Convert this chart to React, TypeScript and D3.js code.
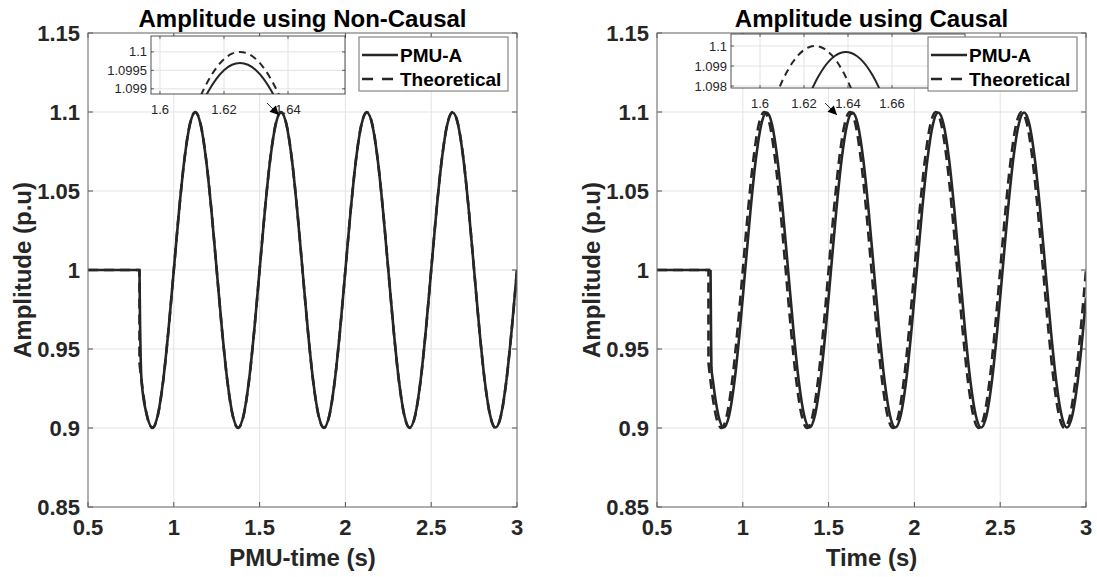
import React from "react";
import * as d3 from "d3";

// ---------- tick values / labels ----------
const X_TICKS = [0.5, 1, 1.5, 2, 2.5, 3];
const X_TICK_LABELS = ["0.5", "1", "1.5", "2", "2.5", "3"];
const Y_TICKS = [0.85, 0.9, 0.95, 1, 1.05, 1.1, 1.15];
const Y_TICK_LABELS = ["0.85", "0.9", "0.95", "1", "1.05", "1.1", "1.15"];

// ---------- main series ----------
// sample times of the theoretical / non-causal oscillation
const WAVE_T = [
  0.8125, 0.84375, 0.875, 0.90625, 0.9375, 0.96875, 1.0, 1.03125, 1.0625, 1.09375,
  1.125, 1.15625, 1.1875, 1.21875, 1.25, 1.28125, 1.3125, 1.34375, 1.375, 1.40625,
  1.4375, 1.46875, 1.5, 1.53125, 1.5625, 1.59375, 1.625, 1.65625, 1.6875, 1.71875,
  1.75, 1.78125, 1.8125, 1.84375, 1.875, 1.90625, 1.9375, 1.96875, 2.0, 2.03125,
  2.0625, 2.09375, 2.125, 2.15625, 2.1875, 2.21875, 2.25, 2.28125, 2.3125, 2.34375,
  2.375, 2.40625, 2.4375, 2.46875, 2.5, 2.53125, 2.5625, 2.59375, 2.625, 2.65625,
  2.6875, 2.71875, 2.75, 2.78125, 2.8125, 2.84375, 2.875, 2.90625, 2.9375, 2.96875, 3.0,
];
const THEO_V = [
  0.9293, 0.9076, 0.9, 0.9076, 0.9293, 0.9617, 1, 1.0383, 1.0707, 1.0924,
  1.1, 1.0924, 1.0707, 1.0383, 1, 0.9617, 0.9293, 0.9076, 0.9, 0.9076,
  0.9293, 0.9617, 1, 1.0383, 1.0707, 1.0924, 1.1, 1.0924, 1.0707, 1.0383,
  1, 0.9617, 0.9293, 0.9076, 0.9, 0.9076, 0.9293, 0.9617, 1, 1.0383,
  1.0707, 1.0924, 1.1, 1.0924, 1.0707, 1.0383, 1, 0.9617, 0.9293, 0.9076,
  0.9, 0.9076, 0.9293, 0.9617, 1, 1.0383, 1.0707, 1.0924, 1.1, 1.0924,
  1.0707, 1.0383, 1, 0.9617, 0.9293, 0.9076, 0.9, 0.9076, 0.9293, 0.9617, 1,
];
const PMU_NC_V = [
  0.9295, 0.9079, 0.9003, 0.9079, 0.9295, 0.9618, 1, 1.0382, 1.0705, 1.0921,
  1.0997, 1.0921, 1.0705, 1.0382, 1, 0.9618, 0.9295, 0.9079, 0.9003, 0.9079,
  0.9295, 0.9618, 1, 1.0382, 1.0705, 1.0921, 1.0997, 1.0921, 1.0705, 1.0382,
  1, 0.9618, 0.9295, 0.9079, 0.9003, 0.9079, 0.9295, 0.9618, 1, 1.0382,
  1.0705, 1.0921, 1.0997, 1.0921, 1.0705, 1.0382, 1, 0.9618, 0.9295, 0.9079,
  0.9003, 0.9079, 0.9295, 0.9618, 1, 1.0382, 1.0705, 1.0921, 1.0997, 1.0921,
  1.0705, 1.0382, 1, 0.9618, 0.9295, 0.9079, 0.9003, 0.9079, 0.9295, 0.9618, 1,
];
// causal PMU: lagging samples
const CAUSAL_T = [
  0.8265, 0.85775, 0.889, 0.92025, 0.9515, 0.98275, 1.014, 1.04525, 1.0765, 1.10775,
  1.139, 1.17025, 1.2015, 1.23275, 1.264, 1.29525, 1.3265, 1.35775, 1.389, 1.42025,
  1.4515, 1.48275, 1.514, 1.54525, 1.5765, 1.60775, 1.639, 1.67025, 1.7015, 1.73275,
  1.764, 1.79525, 1.8265, 1.85775, 1.889, 1.92025, 1.9515, 1.98275, 2.014, 2.04525,
  2.0765, 2.10775, 2.139, 2.17025, 2.2015, 2.23275, 2.264, 2.29525, 2.3265, 2.35775,
  2.389, 2.42025, 2.4515, 2.48275, 2.514, 2.54525, 2.5765, 2.60775, 2.639, 2.67025,
  2.7015, 2.73275, 2.764, 2.79525, 2.8265, 2.85775, 2.889, 2.92025, 2.9515, 2.98275, 3.0,
];
const PMU_C_V = [
  0.9295, 0.9079, 0.9003, 0.9079, 0.9295, 0.9618, 1, 1.0382, 1.0705, 1.0921,
  1.0997, 1.0921, 1.0705, 1.0382, 1, 0.9618, 0.9295, 0.9079, 0.9003, 0.9079,
  0.9295, 0.9618, 1, 1.0382, 1.0705, 1.0921, 1.0997, 1.0921, 1.0705, 1.0382,
  1, 0.9618, 0.9295, 0.9079, 0.9003, 0.9079, 0.9295, 0.9618, 1, 1.0382,
  1.0705, 1.0921, 1.0997, 1.0921, 1.0705, 1.0382, 1, 0.9618, 0.9295, 0.9079,
  0.9003, 0.9079, 0.9295, 0.9618, 1, 1.0382, 1.0705, 1.0921, 1.0997, 1.0921,
  1.0705, 1.0382, 1, 0.9618, 0.9295, 0.9079, 0.9003, 0.9079, 0.9295, 0.9618, 0.9825,
];

// pre-disturbance flat parts and step transitions
const THEO_FLAT_T = [0.5, 0.8, 0.8];
const THEO_FLAT_V = [1, 1, 0.9412];
const THEO_HEAD_T = [0.8];
const THEO_HEAD_V = [0.9412];
const PMU_NC_FLAT_T = [0.5, 0.8];
const PMU_NC_FLAT_V = [1, 1];
const PMU_NC_HEAD_T = [0.8, 0.8035, 0.807];
const PMU_NC_HEAD_V = [1, 0.965, 0.944];
const PMU_C_FLAT_T = [0.5, 0.812];
const PMU_C_FLAT_V = [1, 1];
const PMU_C_HEAD_T = [0.812, 0.8145, 0.817];
const PMU_C_HEAD_V = [1, 0.965, 0.9385];

// ---------- inset data (zoom near the 1.625 s peak) ----------
const INS_L_T = [1.61, 1.6125, 1.615, 1.6175, 1.62, 1.6225, 1.625, 1.6275, 1.63, 1.6325, 1.635, 1.6375, 1.64];
const INS_L_THEO = [1.098223, 1.098766, 1.09921, 1.099556, 1.099803, 1.099951, 1.1, 1.099951, 1.099803, 1.099556, 1.09921, 1.098766, 1.098223];
const INS_L_PMU = [1.097929, 1.09847, 1.098913, 1.099257, 1.099503, 1.099651, 1.0997, 1.099651, 1.099503, 1.099257, 1.098913, 1.09847, 1.097929];
const INS_L_XTICKS = [1.6, 1.62, 1.64];
const INS_L_XLABELS = ["1.6", "1.62", "1.64"];
const INS_L_YTICKS = [1.099, 1.0995, 1.1];
const INS_L_YLABELS = ["1.099", "1.0995", "1.1"];

const INS_R_THEO_T = [1.605, 1.6075, 1.61, 1.6125, 1.615, 1.6175, 1.62, 1.6225, 1.625, 1.6275, 1.63, 1.6325, 1.635, 1.6375, 1.64, 1.6425, 1.645];
const INS_R_THEO = [1.096858, 1.097582, 1.098223, 1.098766, 1.09921, 1.099556, 1.099803, 1.099951, 1.1, 1.099951, 1.099803, 1.099556, 1.09921, 1.098766, 1.098223, 1.097582, 1.096858];
const INS_R_PMU_T = [1.619, 1.6215, 1.624, 1.6265, 1.629, 1.6315, 1.634, 1.6365, 1.639, 1.6415, 1.644, 1.6465, 1.649, 1.6515, 1.654, 1.6565, 1.659];
const INS_R_PMU = [1.096551, 1.097289, 1.097929, 1.09847, 1.098913, 1.099257, 1.099503, 1.099651, 1.0997, 1.099651, 1.099503, 1.099257, 1.098913, 1.09847, 1.097929, 1.097289, 1.096551];
const INS_R_XTICKS = [1.6, 1.62, 1.64, 1.66];
const INS_R_XLABELS = ["1.6", "1.62", "1.64", "1.66"];
const INS_R_YTICKS = [1.098, 1.099, 1.1];
const INS_R_YLABELS = ["1.098", "1.099", "1.1"];

const LEGEND = ["PMU-A", "Theoretical"];

// ---------- styling ----------
const W = 1097;
const H = 577;
const TOP = 33;
const BOTTOM = 507;
const FONT = "'Liberation Sans', Arial, Helvetica, sans-serif";
const AX = "#262626";
const GRID = "#e3e3e3";
const LINE = "#262626";

type Pt = [number, number];
const zip = (t: number[], v: number[]): Pt[] => t.map((d, i) => [d, v[i]]);

interface InsetCfg {
  x: number; y: number; w: number; h: number;
  xDomain: [number, number]; yDomain: [number, number];
  theo: Pt[]; pmu: Pt[];
  xticks: number[]; xlabels: string[]; yticks: number[]; ylabels: string[];
}

interface PanelCfg {
  id: string;
  x0: number; x1: number;
  title: string; xLabel: string;
  theoFlat: Pt[]; theoWave: Pt[];
  pmuFlat: Pt[]; pmuWave: Pt[];
  inset: InsetCfg;
  arrow: [Pt, Pt];
}

function Inset({ cfg, id }: { cfg: InsetCfg; id: string }) {
  const xs = d3.scaleLinear().domain(cfg.xDomain).range([cfg.x, cfg.x + cfg.w]);
  const ys = d3.scaleLinear().domain(cfg.yDomain).range([cfg.y + cfg.h, cfg.y]);
  const line = d3.line<Pt>().x((d) => xs(d[0])).y((d) => ys(d[1])).curve(d3.curveNatural);
  return (
    <g>
      <defs>
        <clipPath id={id}>
          <rect x={cfg.x} y={cfg.y} width={cfg.w} height={cfg.h} />
        </clipPath>
      </defs>
      <rect x={cfg.x} y={cfg.y} width={cfg.w} height={cfg.h} fill="#fff" />
      {cfg.xticks.map((t) => (
        <line key={"gx" + t} x1={xs(t)} x2={xs(t)} y1={cfg.y} y2={cfg.y + cfg.h} stroke={GRID} strokeWidth={1} />
      ))}
      {cfg.yticks.map((t) => (
        <line key={"gy" + t} x1={cfg.x} x2={cfg.x + cfg.w} y1={ys(t)} y2={ys(t)} stroke={GRID} strokeWidth={1} />
      ))}
      <g clipPath={`url(#${id})`}>
        <path d={line(cfg.pmu) || ""} fill="none" stroke={LINE} strokeWidth={2} />
        <path d={line(cfg.theo) || ""} fill="none" stroke={LINE} strokeWidth={2} strokeDasharray="7,5" />
      </g>
      {cfg.xticks.map((t) => (
        <g key={"tx" + t}>
          <line x1={xs(t)} x2={xs(t)} y1={cfg.y + cfg.h} y2={cfg.y + cfg.h - 3} stroke={AX} strokeWidth={0.7} />
          <line x1={xs(t)} x2={xs(t)} y1={cfg.y} y2={cfg.y + 3} stroke={AX} strokeWidth={0.7} />
        </g>
      ))}
      {cfg.yticks.map((t) => (
        <g key={"ty" + t}>
          <line x1={cfg.x} x2={cfg.x + 3} y1={ys(t)} y2={ys(t)} stroke={AX} strokeWidth={0.7} />
          <line x1={cfg.x + cfg.w} x2={cfg.x + cfg.w - 3} y1={ys(t)} y2={ys(t)} stroke={AX} strokeWidth={0.7} />
        </g>
      ))}
      <rect x={cfg.x} y={cfg.y} width={cfg.w} height={cfg.h} fill="none" stroke={AX} strokeWidth={0.8} />
      {cfg.xticks.map((t, i) => (
        <text key={"lx" + t} x={xs(t)} y={cfg.y + cfg.h + 20} textAnchor="middle" fontSize={13} fill={AX} fontFamily={FONT}>
          {cfg.xlabels[i]}
        </text>
      ))}
      {cfg.yticks.map((t, i) => (
        <text key={"ly" + t} x={cfg.x - 4} y={ys(t)} dy="0.35em" textAnchor="end" fontSize={13} fill={AX} fontFamily={FONT}>
          {cfg.ylabels[i]}
        </text>
      ))}
    </g>
  );
}

function Panel({ p }: { p: PanelCfg }) {
  const x = d3.scaleLinear().domain([0.5, 3]).range([p.x0, p.x1]);
  const y = d3.scaleLinear().domain([0.85, 1.15]).range([BOTTOM, TOP]);
  const flat = d3.line<Pt>().x((d) => x(d[0])).y((d) => y(d[1])).curve(d3.curveLinear);
  const wave = d3.line<Pt>().x((d) => x(d[0])).y((d) => y(d[1])).curve(d3.curveMonotoneX);
  const lgW = 149;
  const lgH = 54;
  const lgX = p.x1 - 9 - lgW;
  const lgY = 37;
  const [a0, a1] = p.arrow;
  return (
    <g>
      {/* grid */}
      {X_TICKS.map((t) => (
        <line key={"gx" + t} x1={x(t)} x2={x(t)} y1={TOP} y2={BOTTOM} stroke={GRID} strokeWidth={1} />
      ))}
      {Y_TICKS.map((t) => (
        <line key={"gy" + t} x1={p.x0} x2={p.x1} y1={y(t)} y2={y(t)} stroke={GRID} strokeWidth={1} />
      ))}
      {/* curves */}
      <g clipPath={`url(#clip-${p.id})`}>
        <path d={flat(p.pmuFlat) || ""} fill="none" stroke={LINE} strokeWidth={2.6} strokeLinejoin="round" />
        <path d={wave(p.pmuWave) || ""} fill="none" stroke={LINE} strokeWidth={2.6} strokeLinejoin="round" />
        <path d={flat(p.theoFlat) || ""} fill="none" stroke={LINE} strokeWidth={2.6} strokeDasharray="10,6" />
        <path d={wave(p.theoWave) || ""} fill="none" stroke={LINE} strokeWidth={2.6} strokeDasharray="10,6" />
      </g>
      {/* ticks */}
      {X_TICKS.map((t) => (
        <g key={"tx" + t}>
          <line x1={x(t)} x2={x(t)} y1={BOTTOM} y2={BOTTOM - 5} stroke={AX} strokeWidth={0.8} />
          <line x1={x(t)} x2={x(t)} y1={TOP} y2={TOP + 5} stroke={AX} strokeWidth={0.8} />
        </g>
      ))}
      {Y_TICKS.map((t) => (
        <g key={"ty" + t}>
          <line x1={p.x0} x2={p.x0 + 5} y1={y(t)} y2={y(t)} stroke={AX} strokeWidth={0.8} />
          <line x1={p.x1} x2={p.x1 - 5} y1={y(t)} y2={y(t)} stroke={AX} strokeWidth={0.8} />
        </g>
      ))}
      <rect x={p.x0} y={TOP} width={p.x1 - p.x0} height={BOTTOM - TOP} fill="none" stroke="#6e6e6e" strokeWidth={1} />
      {/* tick labels */}
      {X_TICKS.map((t, i) => (
        <text key={"lx" + t} x={x(t)} y={BOTTOM + 28} textAnchor="middle" fontSize={22} fontWeight="bold" fill={AX} fontFamily={FONT}>
          {X_TICK_LABELS[i]}
        </text>
      ))}
      {Y_TICKS.map((t, i) => (
        <text key={"ly" + t} x={p.x0 - 8} y={y(t)} dy="0.36em" textAnchor="end" fontSize={22} fontWeight="bold" fill={AX} fontFamily={FONT}>
          {Y_TICK_LABELS[i]}
        </text>
      ))}
      {/* axis labels and title */}
      <text x={(p.x0 + p.x1) / 2} y={566} textAnchor="middle" fontSize={24} fontWeight="bold" fill={AX} fontFamily={FONT}>
        {p.xLabel}
      </text>
      <text transform={`translate(${p.x0 - 57},${(TOP + BOTTOM) / 2}) rotate(-90)`} textAnchor="middle" fontSize={24} fontWeight="bold" fill={AX} fontFamily={FONT}>
        Amplitude (p.u)
      </text>
      <text x={(p.x0 + p.x1) / 2} y={27} textAnchor="middle" fontSize={24} fontWeight="bold" fill="#000" fontFamily={FONT}>
        {p.title}
      </text>
      {/* inset */}
      <Inset cfg={p.inset} id={"inset-" + p.id} />
      {/* arrow */}
      <line x1={x(a0[0])} y1={y(a0[1])} x2={x(a1[0])} y2={y(a1[1])} stroke="#000" strokeWidth={0.8} markerEnd="url(#arrowhead)" />
      {/* legend */}
      <rect x={lgX} y={lgY} width={lgW} height={lgH} fill="#fff" stroke="#6e6e6e" strokeWidth={1} />
      <line x1={lgX + 3} x2={lgX + 39} y1={lgY + 18} y2={lgY + 18} stroke={LINE} strokeWidth={2.6} />
      <line x1={lgX + 3} x2={lgX + 39} y1={lgY + 42} y2={lgY + 42} stroke={LINE} strokeWidth={2.6} strokeDasharray="11,9" />
      <text x={lgX + 41} y={lgY + 18} dy="0.36em" fontSize={19} fontWeight="bold" fill="#000" fontFamily={FONT}>
        {LEGEND[0]}
      </text>
      <text x={lgX + 41} y={lgY + 42} dy="0.36em" fontSize={19} fontWeight="bold" fill="#000" fontFamily={FONT}>
        {LEGEND[1]}
      </text>
    </g>
  );
}

const PANELS: PanelCfg[] = [
  {
    id: "nc",
    x0: 88,
    x1: 517,
    title: "Amplitude using Non-Causal",
    xLabel: "PMU-time (s)",
    theoFlat: zip(THEO_FLAT_T, THEO_FLAT_V),
    theoWave: zip([...THEO_HEAD_T, ...WAVE_T], [...THEO_HEAD_V, ...THEO_V]),
    pmuFlat: zip(PMU_NC_FLAT_T, PMU_NC_FLAT_V),
    pmuWave: zip([...PMU_NC_HEAD_T, ...WAVE_T], [...PMU_NC_HEAD_V, ...PMU_NC_V]),
    inset: {
      x: 151, y: 36, w: 194, h: 58,
      xDomain: [1.5972, 1.6578], yDomain: [1.09886, 1.10043],
      theo: zip(INS_L_T, INS_L_THEO), pmu: zip(INS_L_T, INS_L_PMU),
      xticks: INS_L_XTICKS, xlabels: INS_L_XLABELS, yticks: INS_L_YTICKS, ylabels: INS_L_YLABELS,
    },
    arrow: [[1.543, 1.1057], [1.613, 1.0981]],
  },
  {
    id: "c",
    x0: 657,
    x1: 1086,
    title: "Amplitude using Causal",
    xLabel: "Time (s)",
    theoFlat: zip(THEO_FLAT_T, THEO_FLAT_V),
    theoWave: zip([...THEO_HEAD_T, ...WAVE_T], [...THEO_HEAD_V, ...THEO_V]),
    pmuFlat: zip(PMU_C_FLAT_T, PMU_C_FLAT_V),
    pmuWave: zip([...PMU_C_HEAD_T, ...CAUSAL_T], [...PMU_C_HEAD_V, ...PMU_C_V]),
    inset: {
      x: 731, y: 34, w: 234, h: 54,
      xDomain: [1.5868, 1.6932], yDomain: [1.0979, 1.1006],
      theo: zip(INS_R_THEO_T, INS_R_THEO), pmu: zip(INS_R_PMU_T, INS_R_PMU),
      xticks: INS_R_XTICKS, xlabels: INS_R_XLABELS, yticks: INS_R_YTICKS, ylabels: INS_R_YLABELS,
    },
    arrow: [[1.479, 1.1057], [1.549, 1.0981]],
  },
];

export default function App() {
  return (
    <svg width={W} height={H} viewBox={`0 0 ${W} ${H}`} style={{ display: "block", position: "absolute", left: 0, top: 0, background: "#fff" }}>
      <defs>
        <marker id="arrowhead" viewBox="0 0 10 10" refX={10} refY={5} markerWidth={10} markerHeight={9} markerUnits="userSpaceOnUse" orient="auto">
          <path d="M0,0 L10,5 L0,10 z" fill="#000" />
        </marker>
        {PANELS.map((p) => (
          <clipPath key={p.id} id={`clip-${p.id}`}>
            <rect x={p.x0} y={TOP} width={p.x1 - p.x0} height={BOTTOM - TOP} />
          </clipPath>
        ))}
      </defs>
      <rect x={0} y={0} width={W} height={H} fill="#fff" />
      {PANELS.map((p) => (
        <Panel key={p.id} p={p} />
      ))}
    </svg>
  );
}
